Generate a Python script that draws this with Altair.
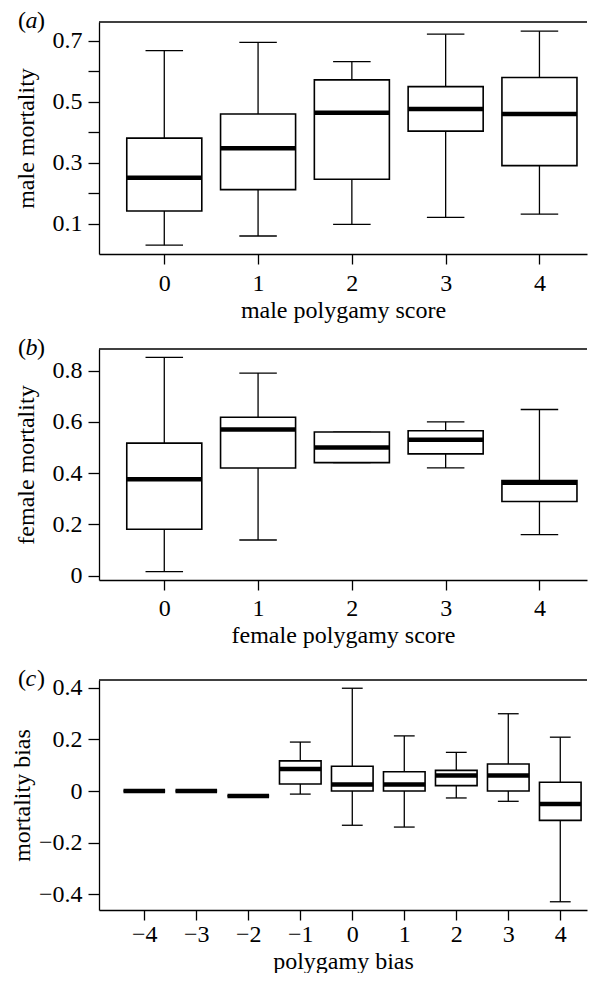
import altair as alt
import pandas as pd

FONT = "Liberation Serif"
FS = 24

# ---- panel (a): male mortality by male polygamy score
a_cat = [0, 1, 2, 3, 4]
a_low = [0.029, 0.059, 0.097, 0.120, 0.131]
a_q1 = [0.141, 0.211, 0.245, 0.403, 0.290]
a_med = [0.250, 0.347, 0.463, 0.476, 0.459]
a_q3 = [0.380, 0.459, 0.571, 0.549, 0.579]
a_high = [0.667, 0.694, 0.631, 0.721, 0.731]

# ---- panel (b): female mortality by female polygamy score
b_cat = [0, 1, 2, 3, 4]
b_low = [0.016, 0.139, 0.441, 0.420, 0.160]
b_q1 = [0.181, 0.420, 0.441, 0.475, 0.289]
b_med = [0.376, 0.570, 0.500, 0.530, 0.362]
b_q3 = [0.517, 0.618, 0.560, 0.565, 0.371]
b_high = [0.851, 0.790, 0.560, 0.600, 0.648]

# ---- panel (c): mortality bias by polygamy bias
c_cat = [-4, -3, -2, -1, 0, 1, 2, 3, 4]
c_low = [0.0, 0.0, -0.019, -0.012, -0.133, -0.140, -0.027, -0.040, -0.430]
c_q1 = [0.0, 0.0, -0.019, 0.027, 0.000, 0.000, 0.021, 0.000, -0.114]
c_med = [0.0, 0.0, -0.019, 0.085, 0.025, 0.025, 0.060, 0.060, -0.050]
c_q3 = [0.0, 0.0, -0.019, 0.117, 0.096, 0.075, 0.080, 0.105, 0.034]
c_high = [0.0, 0.0, -0.019, 0.190, 0.399, 0.214, 0.150, 0.300, 0.209]

W = 488


def frame(cat, low, q1, med, q3, high):
    return pd.DataFrame({"cat": cat, "low": low, "q1": q1, "med": med, "q3": q3, "high": high})


def panel(df, xdom, ydom, height, xvals, yvals, ylabel_expr, xtitle, ytitle, letter,
          title_x, xlabel_pad):
    xscale = alt.Scale(domain=xdom, nice=False, zero=False)
    yscale = alt.Scale(domain=ydom, nice=False, zero=False)
    xaxis = alt.Axis(values=xvals, format="d", grid=False, tickSize=10, tickWidth=1.3,
                     tickColor="black", domainColor="black", domainWidth=1.3,
                     labelFont=FONT, labelFontSize=FS, labelColor="black", labelPadding=xlabel_pad,
                     titleFont=FONT, titleFontSize=FS, titleColor="black",
                     titleFontWeight="normal", titlePadding=3)
    yaxis = alt.Axis(values=yvals, labelExpr=ylabel_expr, grid=False, tickSize=11, tickWidth=1.3,
                     tickColor="black", domainColor="black", domainWidth=1.3,
                     labelFont=FONT, labelFontSize=FS, labelColor="black", labelPadding=6,
                     titleFont=FONT, titleFontSize=FS, titleColor="black",
                     titleFontWeight="normal", titleAngle=270, titleAlign="center",
                     titleBaseline="alphabetic", titleX=title_x, titleY=height / 2)
    X = lambda f: alt.X(f, scale=xscale, axis=xaxis, title=xtitle)
    Y = lambda f: alt.Y(f, scale=yscale, axis=yaxis, title=ytitle)
    base = alt.Chart(df).transform_calculate(
        xl="datum.cat - 0.4", xr="datum.cat + 0.4",
        cl="datum.cat - 0.2", cr="datum.cat + 0.2")
    whisk = base.mark_rule(color="black", strokeWidth=1.3).encode(x=X("cat:Q"), y=Y("low:Q"), y2="high:Q")
    cap_hi = base.mark_rule(color="black", strokeWidth=1.3).encode(x=X("cl:Q"), x2="cr:Q", y=Y("high:Q"))
    cap_lo = base.mark_rule(color="black", strokeWidth=1.3).encode(x=X("cl:Q"), x2="cr:Q", y=Y("low:Q"))
    box = base.mark_rect(fill="white", stroke="black", strokeWidth=1.6).encode(
        x=X("xl:Q"), x2="xr:Q", y=Y("q1:Q"), y2="q3:Q")
    med = base.mark_rule(color="black", strokeWidth=4.5).encode(x=X("xl:Q"), x2="xr:Q", y=Y("med:Q"))
    one = pd.DataFrame({"k": [0]})
    top = alt.Chart(one).mark_rule(color="black", strokeWidth=1.3).encode(
        x=alt.value(0), x2=alt.value(W), y=alt.value(0))
    lab1 = alt.Chart(one).mark_text(
        text="(", font=FONT, fontSize=FS, align="left", baseline="alphabetic", color="black"
    ).encode(x=alt.value(-81), y=alt.value(6))
    lab2 = alt.Chart(one).mark_text(
        text=letter, font=FONT, fontSize=FS, fontStyle="italic", align="left", baseline="alphabetic", color="black"
    ).encode(x=alt.value(-73.5), y=alt.value(6))
    lab3 = alt.Chart(one).mark_text(
        text=")", font=FONT, fontSize=FS, align="left", baseline="alphabetic", color="black"
    ).encode(x=alt.value(-62), y=alt.value(6))
    return alt.layer(whisk, cap_hi, cap_lo, box, med, top, lab1, lab2, lab3).properties(width=W, height=height)


pa = panel(frame(a_cat, a_low, a_q1, a_med, a_q3, a_high),
           [-0.696, 4.507], [0.0, 0.761], 232, a_cat,
           [0.1, 0.2, 0.3, 0.4, 0.5, 0.6, 0.7],
           "indexof(['0.1','0.3','0.5','0.7'], format(datum.value, '.1f')) >= 0 ? format(datum.value, '.1f') : ''",
           "male polygamy score", "male mortality", "a", -66, 7)
pb = panel(frame(b_cat, b_low, b_q1, b_med, b_q3, b_high),
           [-0.696, 4.507], [-0.017, 0.884], 231, b_cat,
           [0.0, 0.2, 0.4, 0.6, 0.8],
           "datum.value == 0 ? '0' : format(datum.value, '.1f')",
           "female polygamy score", "female mortality", "b", -66, 6)
pc = panel(frame(c_cat, c_low, c_q1, c_med, c_q3, c_high),
           [-4.871, 4.514], [-0.462, 0.431], 230, c_cat,
           [-0.4, -0.2, 0.0, 0.2, 0.4],
           "datum.value == 0 ? '0' : format(datum.value, '.1f')",
           "polygamy bias", "mortality bias", "c", -70, 2)

chart = alt.vconcat(
    pa,
    alt.vconcat(pb, pc, spacing=100, bounds="flush"),
    spacing=95, bounds="flush",
).properties(
    padding={"left": 2, "top": 1, "right": 0, "bottom": 0},
    background="white",
).configure_view(stroke=None)

chart.save("out.html", embed_options={"renderer": "svg", "actions": False})
